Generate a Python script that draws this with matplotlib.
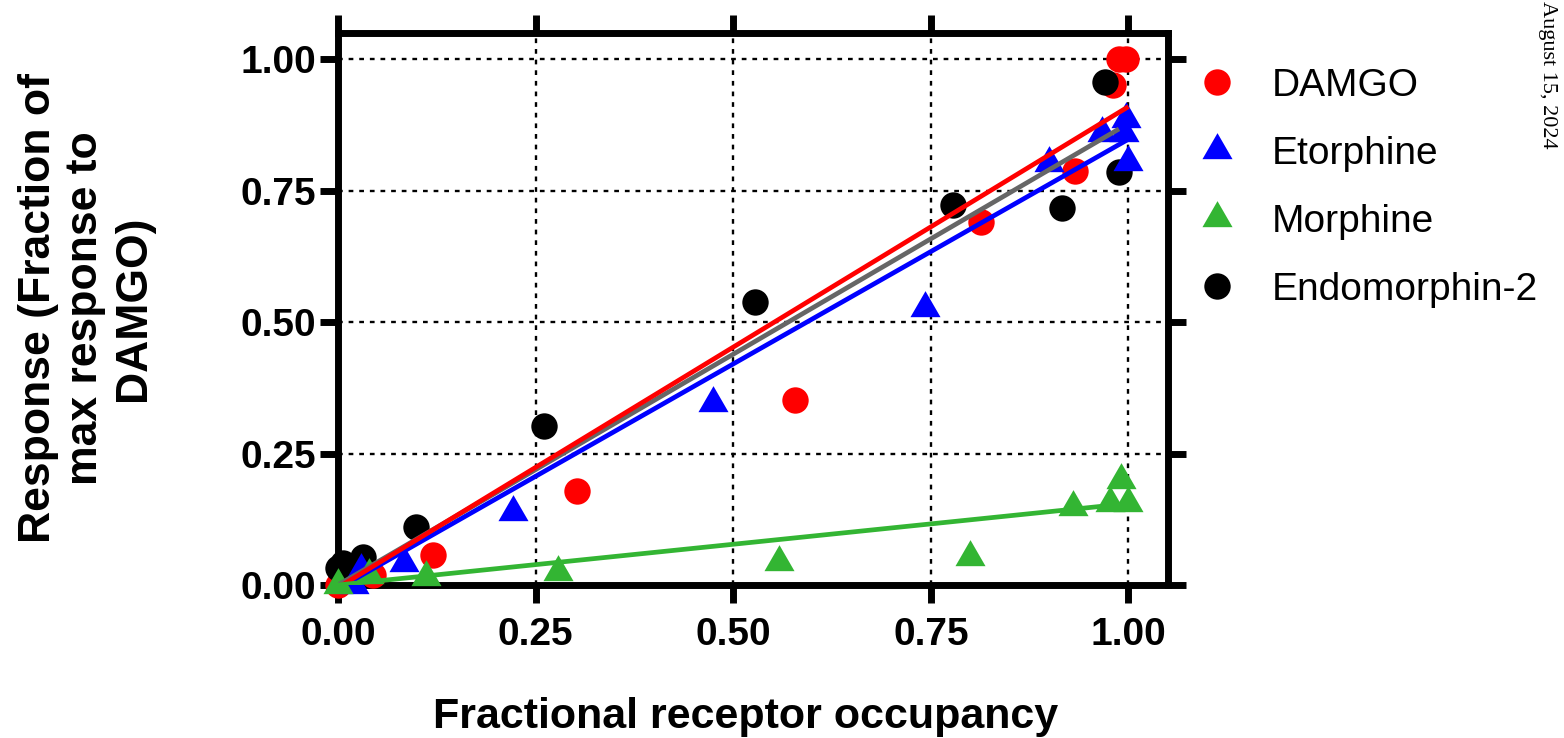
import matplotlib
matplotlib.use("Agg")
import matplotlib.pyplot as plt
from matplotlib.ticker import FormatStrFormatter
from matplotlib.lines import Line2D
import numpy as np

plt.rcParams["font.family"] = ["Liberation Sans", "DejaVu Sans"]

# ---- data ----
damgo_x = [0.0, 0.044, 0.12, 0.302, 0.578, 0.814, 0.932, 0.981, 0.988, 0.997]
damgo_y = [0.0, 0.019, 0.057, 0.179, 0.352, 0.690, 0.787, 0.952, 1.0, 1.0]

etor_x = [0.02, 0.029, 0.084, 0.222, 0.475, 0.742, 0.90, 0.966, 0.994, 0.997, 1.0]
etor_y = [0.0, 0.028, 0.042, 0.139, 0.346, 0.527, 0.802, 0.859, 0.859, 0.886, 0.804]

morph_x = [0.0, 0.039, 0.111, 0.278, 0.558, 0.80, 0.93, 0.976, 0.991, 1.0]
morph_y = [0.0, 0.019, 0.015, 0.025, 0.044, 0.053, 0.148, 0.156, 0.200, 0.156]

endo_x = [0.0, 0.006, 0.032, 0.099, 0.26, 0.527, 0.778, 0.916, 0.97, 0.988]
endo_y = [0.032, 0.042, 0.053, 0.110, 0.302, 0.538, 0.722, 0.717, 0.957, 0.785]

# linear fits (slope, intercept, x range) as drawn
fit_slope = [0.915, 0.855, 0.155, 0.878]
fit_icpt = [-0.005, -0.007, 0.0, 0.0]
fit_xmin = [0.0, 0.01, 0.0, 0.0]
fit_xmax = [1.0, 1.0, 1.0, 0.988]

names = ["DAMGO", "Etorphine", "Morphine", "Endomorphin-2"]
colors = ["#ff0000", "#0000ff", "#33b533", "#000000"]
fit_colors = ["#ff0000", "#0000ff", "#33b533", "#666666"]
markers = ["o", (3, 0, 0), (3, 0, 0), "o"]
msizes = [19, 25, 25, 19]

ticks = [0.0, 0.25, 0.5, 0.75, 1.0]

fig = plt.figure(figsize=(15.64, 7.38), dpi=100)
ax = fig.add_axes([338 / 1564, 1 - 585 / 738, 830 / 1564, 552 / 738])

series = {
    "DAMGO": (damgo_x, damgo_y),
    "Etorphine": (etor_x, etor_y),
    "Morphine": (morph_x, morph_y),
    "Endomorphin-2": (endo_x, endo_y),
}

# draw order: DAMGO, Endomorphin-2, Etorphine, Morphine
for i in [0, 3, 1, 2]:
    xs, ys = series[names[i]]
    ax.plot(xs, ys, linestyle="none", marker=markers[i], markersize=msizes[i],
            color=colors[i], markeredgewidth=0, clip_on=False, zorder=3)

for i in [1, 3, 0, 2]:
    fx = np.array([fit_xmin[i], fit_xmax[i]])
    ax.plot(fx, fit_slope[i] * fx + fit_icpt[i], color=fit_colors[i],
            linewidth=3.4, solid_capstyle="butt", zorder=4)

ax.set_xlim(0, 1.05)
ax.set_ylim(0, 1.05)
ax.set_xticks(ticks)
ax.set_yticks(ticks)
ax.xaxis.set_major_formatter(FormatStrFormatter("%.2f"))
ax.yaxis.set_major_formatter(FormatStrFormatter("%.2f"))
ax.grid(True, color="black", linestyle=(0, (2, 2.5)), linewidth=1.7, zorder=1)
ax.set_axisbelow(True)

for s in ax.spines.values():
    s.set_linewidth(5)
ax.tick_params(direction="out", length=13, width=5, top=True, right=True,
               labelsize=28)
ax.tick_params(axis="x", pad=10)
ax.tick_params(axis="y", pad=3)
for lab in ax.get_xticklabels() + ax.get_yticklabels():
    lab.set_fontweight("bold")

fig.text(746 / 1564, 1 - 728 / 738, "Fractional receptor occupancy",
         ha="center", va="baseline", fontsize=31, fontweight="bold")
fig.text(86 / 1564, 1 - 308 / 738, "Response (Fraction of\nmax response to\nDAMGO)",
         ha="center", va="center", rotation=90, multialignment="center",
         fontsize=32, fontweight="bold", linespacing=1.2)

handles = [Line2D([], [], linestyle="none", marker=markers[i], markersize=msizes[i],
                  color=colors[i], markeredgewidth=0) for i in range(4)]
fig.legend(handles, names, loc="upper left", bbox_to_anchor=(1196 / 1564, 1 - 68 / 738),
           frameon=False, fontsize=28, handlelength=1.1, handletextpad=0.85,
           labelspacing=0.82, borderpad=0, borderaxespad=0)

# sidebar date stamp at the right edge
fig.text(1548 / 1564, 1 - 1 / 738, "August 15, 2024", rotation=-90,
         ha="center", va="top", fontsize=16, family=["Liberation Serif", "DejaVu Serif"])

fig.savefig("out.png", dpi=100)
